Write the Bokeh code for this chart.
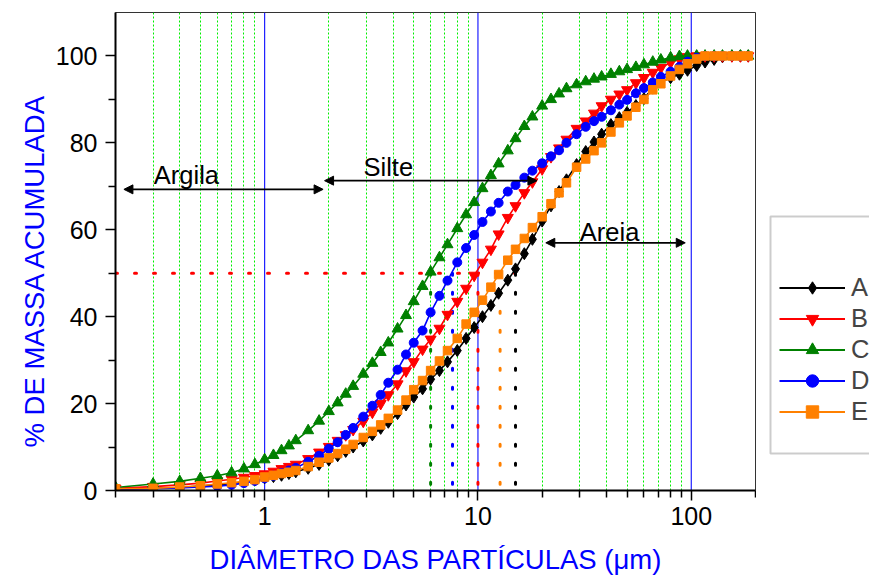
from bokeh.plotting import figure
from bokeh.layouts import row
from bokeh.models import (Range1d, FixedTicker, Grid, Legend, LegendItem, Arrow,
                          NormalHead, ColumnDataSource, BoxAnnotation, Span, Title)
from bokeh.core.properties import value
from bokeh.embed import file_html
from bokeh.resources import INLINE

FONT = "Liberation Sans"

# particle sizes (µm) shared by all samples
diam = [0.2, 0.3, 0.4, 0.5, 0.6, 0.7, 0.8, 0.9, 1.0, 1.1, 1.2, 1.3, 1.4, 1.6, 1.8,
        2.0, 2.2, 2.4, 2.6, 2.9, 3.2, 3.5, 3.8, 4.2, 4.6, 5.0, 5.5, 6.0, 6.6, 7.2,
        8.0, 8.8, 9.6, 10.5, 11.5, 12.5, 13.8, 15, 16.5, 18, 20, 22, 24, 26, 29,
        32, 35, 38, 42, 46, 50, 55, 60, 66, 72, 80, 88, 96, 106, 116, 128, 140,
        155, 170, 185]

# cumulative mass (%) per sample
cum_A = [0.3, 0.5, 0.7, 1.0, 1.3, 1.6, 2.0, 2.4, 2.9, 3.2, 3.5, 3.9, 4.3, 5.1, 6.0,
         7.0, 8.0, 9.0, 10.0, 11.4, 12.8, 14.3, 15.7, 17.7, 19.7, 21.5, 23.4, 25.6, 27.6, 29.6,
         32.2, 35.0, 37.5, 40.0, 42.6, 45.4, 48.4, 51.0, 54.5, 57.8, 62.0, 65.5, 68.8, 71.5, 75.0,
         78.0, 80.2, 82.0, 84.2, 85.8, 87.0, 88.6, 90.2, 92.6, 94.0, 95.0, 95.8, 96.7, 97.8, 98.6, 99.2, 99.8,
         100, 100, 100]
cum_B = [0.5, 0.9, 1.3, 1.7, 2.2, 2.6, 3.0, 3.4, 3.8, 4.4, 5.0, 5.5, 6.0, 7.3, 8.8,
         10.1, 11.5, 12.8, 14.0, 15.9, 18.0, 20.0, 22.0, 24.5, 27.5, 29.6, 32.5, 34.8, 37.3, 40.5,
         43.5, 46.5, 49.5, 52.5, 55.5, 59.0, 62.8, 65.5, 68.5, 71.0, 74.0, 76.8, 78.8, 80.8, 83.3,
         85.0, 86.8, 88.5, 90.0, 91.2, 92.2, 93.8, 95.0, 96.2, 97.3, 98.5, 99.3, 99.8, 100, 100, 100, 100,
         100, 100, 100]
cum_C = [0.7, 1.5, 2.1, 2.8, 3.4, 4.1, 5.0, 6.0, 7.1, 8.1, 9.2, 10.3, 11.5, 13.8, 16.0,
         18.2, 20.2, 22.2, 24.0, 26.8, 29.3, 31.8, 34.0, 37.2, 40.3, 43.5, 47.0, 50.3, 53.6, 56.6,
         60.3, 63.5, 66.3, 69.5, 72.5, 75.2, 78.2, 81.0, 83.8, 86.0, 88.5, 90.0, 91.3, 92.5, 93.4,
         94.1, 94.7, 95.2, 95.8, 96.4, 96.9, 97.4, 98.0, 98.6, 99.1, 99.6, 99.9, 100, 100, 100, 100, 100,
         100, 100, 100]
cum_D = [0.3, 0.4, 0.6, 0.8, 1.0, 1.3, 1.7, 2.2, 2.8, 3.4, 4.0, 4.6, 5.2, 6.6, 8.0,
         9.6, 11.1, 12.8, 14.4, 17.0, 19.5, 22.0, 24.8, 27.8, 31.3, 34.0, 36.8, 41.0, 44.8, 48.3,
         52.5, 55.8, 58.8, 61.8, 64.2, 66.2, 68.8, 70.3, 72.0, 73.6, 75.3, 76.9, 78.3, 80.0, 82.0,
         83.7, 85.0, 86.0, 87.5, 88.8, 89.9, 91.4, 92.6, 93.9, 95.2, 96.4, 97.5, 98.7, 99.6, 100, 100, 100,
         100, 100, 100]
cum_E = [0.4, 0.5, 0.8, 1.1, 1.5, 1.8, 2.1, 2.5, 3.1, 3.5, 3.9, 4.2, 4.6, 5.5, 6.5,
         7.5, 8.5, 9.5, 10.6, 12.2, 13.6, 15.1, 16.6, 18.5, 20.8, 23.2, 25.3, 27.6, 29.8, 32.2,
         35.0, 38.3, 41.0, 43.8, 46.8, 49.7, 53.0, 55.5, 58.0, 60.5, 63.0, 66.0, 68.5, 70.8, 74.4,
         76.3, 78.2, 80.0, 82.5, 84.6, 86.2, 88.2, 90.0, 92.2, 93.6, 95.4, 96.9, 98.2, 99.3, 100, 100, 100,
         100, 100, 100]

# median diameters D50 (µm)
d50_names = ["A", "B", "C", "D", "E"]
d50_values = [15.0, 10.0, 6.0, 7.6, 12.7]

# axis ticks
x_major = [1, 10, 100]
x_minor = [0.2, 0.3, 0.4, 0.5, 0.6, 0.7, 0.8, 0.9, 2, 3, 4, 5, 6, 7, 8, 9,
           20, 30, 40, 50, 60, 70, 80, 90, 200]
y_major = [0, 20, 40, 60, 80, 100]
y_minor = [10, 30, 50, 70, 90]

# size-class annotations
class_names = ["Argila", "Silte", "Areia"]
class_label_x = [0.43, 3.8, 41.4]
class_label_y = [72.6, 74.4, 59.4]
class_arrow_x0 = [0.219, 1.91, 20.8]
class_arrow_x1 = [1.88, 18.9, 93.7]
class_arrow_y = [69.3, 71.3, 57.0]

colors = {"A": "#000000", "B": "#ff0000", "C": "#008000", "D": "#0000ff", "E": "#ff8000"}
markers = {"A": ("diamond", 12), "B": ("inverted_triangle", 11), "C": ("triangle", 11),
           "D": ("circle", 9), "E": ("square", 8.5)}
cum = {"A": cum_A, "B": cum_B, "C": cum_C, "D": cum_D, "E": cum_E}

# ---------------- main chart ----------------
p = figure(width=756, height=577, x_axis_type="log",
           x_range=Range1d(0.2, 200), y_range=Range1d(0, 110),
           output_backend="svg", toolbar_location=None,
           min_border_left=115, min_border_right=1,
           min_border_top=12, min_border_bottom=87)
p.xgrid.visible = False
p.ygrid.visible = False
p.outline_line_color = "#333333"
p.outline_line_width = 1
p.background_fill_color = "white"
p.border_fill_color = "white"

# vertical reference lines: dotted green at minor steps, solid blue at decades
p.add_layout(Grid(dimension=0, ticker=FixedTicker(ticks=x_minor),
                  grid_line_color="#00ee00", grid_line_dash="2 2", grid_line_width=1))
for dec in x_major:
    p.add_layout(Span(location=dec, dimension="height", line_color="#2020ff",
                      line_width=1.2, level="underlay"))

xa = p.xaxis[0]
xa.ticker = FixedTicker(ticks=x_major, minor_ticks=x_minor)
xa.major_label_overrides = {1: "1", 10: "10", 100: "100"}
ya = p.yaxis[0]
ya.ticker = FixedTicker(ticks=y_major, minor_ticks=y_minor)
for ax in (xa, ya):
    ax.axis_line_width = 2
    ax.axis_line_color = "black"
    ax.major_tick_in = 0
    ax.major_tick_out = 10
    ax.minor_tick_in = 0
    ax.minor_tick_out = 7
    ax.major_tick_line_width = 1.5
    ax.minor_tick_line_width = 1.5
    ax.major_label_text_font = FONT
    ax.major_label_text_font_size = "25px"
    ax.major_label_text_color = "black"
xa.axis_label = "DIÂMETRO DAS PARTÍCULAS (μm)"
xa.axis_label_text_font = FONT
xa.axis_label_text_font_size = "27.5px"
xa.axis_label_text_font_style = "normal"
xa.axis_label_text_color = "#0000ff"
xa.major_label_standoff = 6
xa.axis_label_standoff = 16
ya.major_label_standoff = 8

# y title as a side title so it can sit slightly below the frame centre
p.add_layout(Title(text="% DE MASSA ACUMULADA", align="left", offset=43, standoff=6,
                   text_font=FONT, text_font_size="27.5px", text_font_style="normal",
                   text_color="#0000ff"), "left")

# D50 guide lines
dot = dict(line_width=3, line_dash="2 17", line_cap="round")
p.line(x=[min(diam), max(d50_values)], y=[50, 50], line_color="#ff0000", **dot)
for name, d in zip(d50_names, d50_values):
    p.line(x=[d, d], y=[50, 0], line_color=colors[name], **dot)

# size-class arrows and labels
for x0, x1, yy in zip(class_arrow_x0, class_arrow_x1, class_arrow_y):
    p.add_layout(Arrow(start=NormalHead(size=9, fill_color="black", line_color="black", line_width=1),
                       end=NormalHead(size=9, fill_color="black", line_color="black", line_width=1),
                       x_start=x0, y_start=yy, x_end=x1, y_end=yy,
                       line_width=1.8, line_color="black"))
p.text(x=class_label_x, y=class_label_y, text=class_names,
       text_font=value(FONT), text_font_size="25.5px", text_align="center",
       text_baseline="alphabetic", text_color="black")

# cumulative curves
for name in d50_names:
    src = ColumnDataSource(dict(x=diam, y=cum[name]))
    c = colors[name]
    mk, sz = markers[name]
    p.line("x", "y", source=src, line_color=c, line_width=1.6)
    p.scatter("x", "y", source=src, marker=mk, size=sz, fill_color=c, line_color=c)

# ---------------- legend strip (right margin), 1 unit = 1 px ----------------
lg = figure(width=113, height=577, x_range=Range1d(0, 113), y_range=Range1d(0, 478),
            output_backend="svg", toolbar_location=None,
            x_axis_location=None, y_axis_location=None,
            min_border_left=0, min_border_right=0, min_border_top=12, min_border_bottom=87)
lg.xgrid.visible = False
lg.ygrid.visible = False
lg.outline_line_color = None
lg.background_fill_color = "white"
lg.border_fill_color = "white"

lg.add_layout(BoxAnnotation(left=14, right=140, bottom=37, top=274,
                            fill_color="white", fill_alpha=1,
                            line_color="#555555", line_width=2))
items = []
for name in d50_names:
    c = colors[name]
    mk, sz = markers[name]
    # hidden copies of the series, used only for the legend swatches
    ln = lg.line(x=diam, y=cum[name], line_color=c, line_width=2, visible=False)
    sc = lg.scatter(x=diam, y=cum[name], marker=mk, size=sz, fill_color=c, line_color=c,
                    visible=False)
    items.append(LegendItem(label=value(name), renderers=[ln, sc]))
legend = Legend(items=items, location=(23, 63), margin=0, padding=10, spacing=0,
                glyph_width=66, glyph_height=31, label_standoff=6,
                label_text_font=FONT, label_text_font_size="25.5px",
                border_line_color=None, background_fill_alpha=0,
                inactive_fill_alpha=0)
lg.add_layout(legend)

layout = row(p, lg, spacing=0)
open("out.html", "w").write(file_html(layout, INLINE))
